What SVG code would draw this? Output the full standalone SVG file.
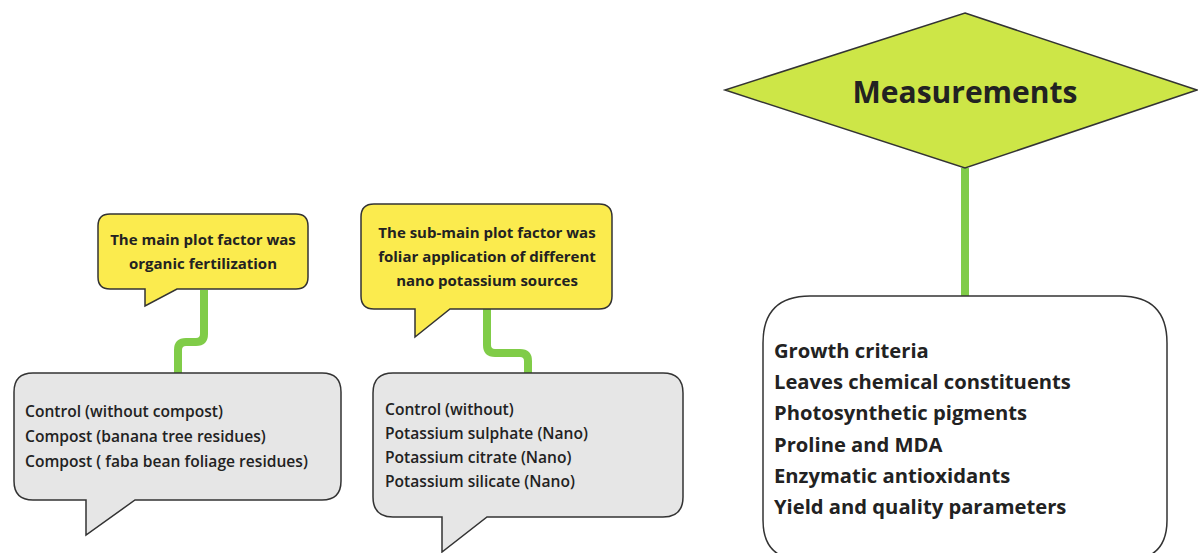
<svg xmlns="http://www.w3.org/2000/svg" width="1198" height="553" viewBox="0 0 1198 553">
<style>
.yb{fill:#fbeb4e;stroke:#333;stroke-width:1.5}
.gb{fill:#e6e6e6;stroke:#333;stroke-width:1.5}
.wb{fill:#ffffff;stroke:#333;stroke-width:1.5}
.dm{fill:#cde647;stroke:#333;stroke-width:1.5}
.con{fill:none;stroke:#80cc48;stroke-width:8;stroke-linejoin:round}
text{font-family:"Open Sans","Liberation Sans",sans-serif;fill:#222}
.yt{font-size:15px;font-weight:bold;text-anchor:middle}
.gt{font-size:15.6px;font-weight:600}
.mt{font-size:20.2px;font-weight:bold}
.dt{font-size:30px;font-weight:bold;text-anchor:middle}
</style>
<rect width="1198" height="553" fill="#ffffff"/>
<g id="connectors">
<path class="con" d="M204,290 V334 Q204,342 196,342 H186 Q178,342 178,350 V373"/>
<path class="con" d="M487,309 V345 Q487,353 495,353 H520 Q528,353 528,361 V373"/>
<path class="con" d="M965,168 V296"/>
</g>
<g id="main-plot">
<path class="yb" d="M110,214 H296 Q308,214 308,226 V277 Q308,289 296,289 H177 L145,306 V289 H110 Q98,289 98,277 V226 Q98,214 110,214 Z"/>
<text class="yt" x="203" y="245">The main plot factor was</text>
<text class="yt" x="203" y="269">organic fertilization</text>
</g>
<g id="sub-main-plot">
<path class="yb" d="M374,204 H599 Q612,204 612,217 V296 Q612,309 599,309 H450 L415,337 V309 H374 Q361,309 361,296 V217 Q361,204 374,204 Z"/>
<text class="yt" x="487" y="238">The sub-main plot factor was</text>
<text class="yt" x="487" y="262">foliar application of different</text>
<text class="yt" x="487" y="286">nano potassium sources</text>
</g>
<g id="compost-list">
<path class="gb" d="M33,373 H322 Q341,373 341,392 V481 Q341,500 322,500 H135 L86,535 V500 H33 Q14,500 14,481 V392 Q14,373 33,373 Z"/>
<text class="gt" x="25" y="417">Control (without compost)</text>
<text class="gt" x="25" y="442">Compost (banana tree residues)</text>
<text class="gt" x="25" y="467">Compost ( faba bean foliage residues)</text>
</g>
<g id="potassium-list">
<path class="gb" d="M393,373 H663 Q683,373 683,393 V497 Q683,517 663,517 H487 L442,552 V517 H393 Q373,517 373,497 V393 Q373,373 393,373 Z"/>
<text class="gt" x="385" y="415">Control (without)</text>
<text class="gt" x="385" y="439">Potassium sulphate (Nano)</text>
<text class="gt" x="385" y="463">Potassium citrate (Nano)</text>
<text class="gt" x="385" y="487">Potassium silicate (Nano)</text>
</g>
<g id="measurements">
<polygon class="dm" points="965,13 1197,90 965,168 725,90"/>
<text class="dt" x="965" y="103">Measurements</text>
</g>
<g id="measurement-list">
<path class="wb" d="M810,296 H1120 Q1167,296 1167,343 V520 Q1167,560 1127,560 H803 Q763,560 763,520 V343 Q763,296 810,296 Z"/>
<text class="mt" x="774" y="358">Growth criteria</text>
<text class="mt" x="774" y="389">Leaves chemical constituents</text>
<text class="mt" x="774" y="420">Photosynthetic pigments</text>
<text class="mt" x="774" y="452">Proline and MDA</text>
<text class="mt" x="774" y="483">Enzymatic antioxidants</text>
<text class="mt" x="774" y="514">Yield and quality parameters</text>
</g>
</svg>
